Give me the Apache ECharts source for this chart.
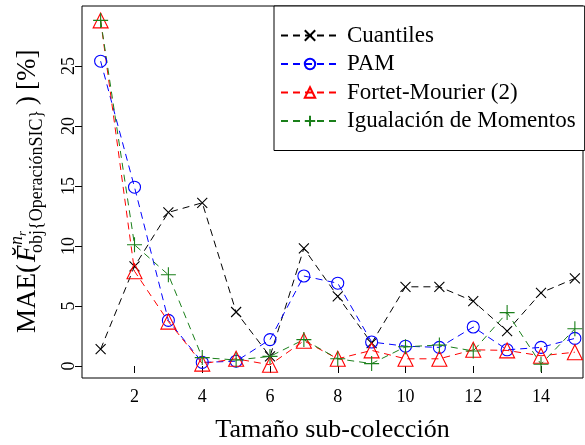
<!DOCTYPE html>
<html>
<head>
<meta charset="utf-8">
<script src="https://cdn.jsdelivr.net/npm/echarts@6/dist/echarts.min.js"></script>
<style>
  html, body { margin: 0; padding: 0; background: #fff; }
  #chart { width: 585px; height: 445px; }
</style>
</head>
<body>
<div id="chart"></div>
<script>
const sizes = [1, 2, 3, 4, 5, 6, 7, 8, 9, 10, 11, 12, 13, 14, 15];
const cuantiles = [1.4, 8.3, 12.8, 13.6, 4.5, 0.8, 9.8, 5.8, 1.9, 6.6, 6.6, 5.4, 2.9, 6.1, 7.3];
const pam = [25.4, 14.9, 3.8, 0.3, 0.4, 2.2, 7.5, 6.9, 2.0, 1.65, 1.55, 3.25, 1.35, 1.55, 2.3];
const fortet = [28.8, 7.9, 3.7, 0.2, 0.6, 0.1, 2.1, 0.6, 1.3, 0.6, 0.6, 1.35, 1.3, 0.85, 1.15];
const igualacion = [28.8, 10.1, 7.6, 0.7, 0.5, 0.8, 2.2, 0.6, 0.2, 1.6, 1.75, 1.25, 4.45, 0.15, 3.1];
const xTicks = [2, 4, 6, 8, 10, 12, 14];
const yTicks = [0, 5, 10, 15, 20, 25];

const serif = '"Liberation Serif", "DejaVu Serif", serif';

const SYM_X = 'path://M0,0L10,10M0,10L10,0';
const SYM_PLUS = 'path://M5,0L5,10M0,5L10,5';
const SYM_CIRCLE = 'path://M10,5A5,5 0 1 1 0,5A5,5 0 1 1 10,5Z';
const SYM_TRI = 'path://M5,0L10,8.66L0,8.66Z';

function pairs(vals) {
  return sizes.map((s, i) => [s, vals[i]]);
}

function makeSeries(name, vals, color, symbol, size) {
  return {
    name: name,
    type: 'line',
    data: pairs(vals),
    symbol: symbol,
    symbolSize: size,
    showAllSymbol: true,
    lineStyle: { color: color, width: 1, type: [7, 5] },
    itemStyle: { color: 'rgba(0,0,0,0)', borderColor: color, borderWidth: 1.1 },
    emphasis: { disabled: true }
  };
}

const chart = echarts.init(document.getElementById('chart'));

chart.setOption({
  animation: false,
  textStyle: { fontFamily: serif },
  grid: {
    left: 82, right: 2, top: 6, bottom: 67,
    show: true, borderColor: '#000', borderWidth: 1,
    outerBoundsMode: 'none'
  },
  legend: {
    orient: 'vertical',
    left: 274,
    top: 6,
    padding: [18, 9, 18, 6],
    itemWidth: 58,
    itemHeight: 13,
    itemGap: 5.5,
    selectedMode: false,
    backgroundColor: '#fff',
    borderColor: '#000',
    borderWidth: 1,
    borderRadius: 0,
    textStyle: { fontFamily: serif, fontSize: 23, lineHeight: 23, color: '#000', padding: [0, 0, 0, 3] }
  },
  xAxis: {
    type: 'value',
    min: 0.45,
    max: 15.24,
    name: 'Tamaño sub-colección',
    nameLocation: 'middle',
    nameGap: 39,
    nameTextStyle: { fontFamily: serif, fontSize: 26, color: '#000' },
    axisLine: { show: false },
    axisTick: { show: true, inside: false, length: 7, customValues: xTicks, lineStyle: { color: '#000' } },
    axisLabel: { customValues: xTicks, margin: 10, fontSize: 18, fontFamily: serif, color: '#000' },
    splitLine: { show: false }
  },
  yAxis: {
    type: 'value',
    min: -1,
    max: 30,
    axisLine: { show: false },
    axisTick: { show: true, inside: false, length: 7, customValues: yTicks, lineStyle: { color: '#000' } },
    axisLabel: { customValues: yTicks, rotate: 90, margin: 4, fontSize: 18, fontFamily: serif, color: '#000' },
    splitLine: { show: false }
  },
  graphic: [{
    type: 'group',
    x: 37,
    y: 333,
    rotation: Math.PI / 2,
    children: [
      { type: 'text', x: 0, y: -9, style: { text: 'MAE(', font: '27px ' + serif, fill: '#000', verticalAlign: 'middle' } },
      { type: 'text', x: 71, y: -9, style: { text: 'F\u0306', font: 'italic 27px ' + serif, fill: '#000', verticalAlign: 'middle' } },
      { type: 'text', x: 88, y: -20, style: { text: 'n', font: 'italic 18px ' + serif, fill: '#000', verticalAlign: 'middle' } },
      { type: 'text', x: 97, y: -14, style: { text: 'r', font: 'italic 13px ' + serif, fill: '#000', verticalAlign: 'middle' } },
      { type: 'text', x: 80, y: 0.5, style: { text: 'obj{OperaciónSIC}', font: '18px ' + serif, fill: '#000', verticalAlign: 'middle' } },
      { type: 'text', x: 228, y: -9, style: { text: ')', font: '27px ' + serif, fill: '#000', verticalAlign: 'middle' } },
      { type: 'text', x: 243, y: -9, style: { text: '[%]', font: '27px ' + serif, fill: '#000', verticalAlign: 'middle' } }
    ]
  }],
  series: [
    makeSeries('Cuantiles', cuantiles, '#000000', SYM_X, 10),
    makeSeries('PAM', pam, '#0000ff', SYM_CIRCLE, 12),
    makeSeries('Fortet-Mourier (2)', fortet, '#ff0000', SYM_TRI, 15),
    makeSeries('Igualación de Momentos', igualacion, '#1a7f1a', SYM_PLUS, 15)
  ]
});
</script>
</body>
</html>
